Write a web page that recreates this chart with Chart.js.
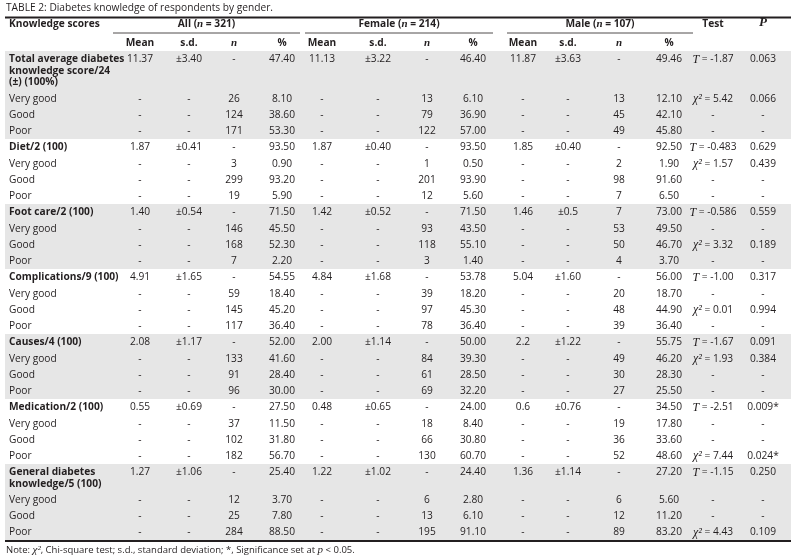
<!DOCTYPE html>
<html>
<head>
<meta charset="utf-8">
<script src="https://cdn.jsdelivr.net/npm/chart.js@4"></script>
<style>
  html, body { margin: 0; padding: 0; background: #fff; }
  #table2 { display: block; }
</style>
</head>
<body>
<canvas id="table2" width="796" height="558"></canvas>
<script>
// rows: each section = heading row + Very good / Good / Poor
var sectionLabels = [
    ['Total average diabetes', 'knowledge score/24', '(\u00b1) (100%)'],
    ['Diet/2 (100)'],
    ['Foot care/2 (100)'],
    ['Complications/9 (100)'],
    ['Causes/4 (100)'],
    ['Medication/2 (100)'],
    ['General diabetes', 'knowledge/5 (100)']
];
var levelLabels = ['Very good', 'Good', 'Poor'];

var allMean = ['11.37','-','-','-', '1.87','-','-','-', '1.40','-','-','-', '4.91','-','-','-', '2.08','-','-','-', '0.55','-','-','-', '1.27','-','-','-'];
var allSd   = ['\u00b13.40','-','-','-', '\u00b10.41','-','-','-', '\u00b10.54','-','-','-', '\u00b11.65','-','-','-', '\u00b11.17','-','-','-', '\u00b10.69','-','-','-', '\u00b11.06','-','-','-'];
var allN    = ['-','26','124','171', '-','3','299','19', '-','146','168','7', '-','59','145','117', '-','133','91','96', '-','37','102','182', '-','12','25','284'];
var allPct  = ['47.40','8.10','38.60','53.30', '93.50','0.90','93.20','5.90', '71.50','45.50','52.30','2.20', '54.55','18.40','45.20','36.40', '52.00','41.60','28.40','30.00', '27.50','11.50','31.80','56.70', '25.40','3.70','7.80','88.50'];

var femMean = ['11.13','-','-','-', '1.87','-','-','-', '1.42','-','-','-', '4.84','-','-','-', '2.00','-','-','-', '0.48','-','-','-', '1.22','-','-','-'];
var femSd   = ['\u00b13.22','-','-','-', '\u00b10.40','-','-','-', '\u00b10.52','-','-','-', '\u00b11.68','-','-','-', '\u00b11.14','-','-','-', '\u00b10.65','-','-','-', '\u00b11.02','-','-','-'];
var femN    = ['-','13','79','122', '-','1','201','12', '-','93','118','3', '-','39','97','78', '-','84','61','69', '-','18','66','130', '-','6','13','195'];
var femPct  = ['46.40','6.10','36.90','57.00', '93.50','0.50','93.90','5.60', '71.50','43.50','55.10','1.40', '53.78','18.20','45.30','36.40', '50.00','39.30','28.50','32.20', '24.00','8.40','30.80','60.70', '24.40','2.80','6.10','91.10'];

var maleMean = ['11.87','-','-','-', '1.85','-','-','-', '1.46','-','-','-', '5.04','-','-','-', '2.2','-','-','-', '0.6','-','-','-', '1.36','-','-','-'];
var maleSd   = ['\u00b13.63','-','-','-', '\u00b10.40','-','-','-', '\u00b10.5','-','-','-', '\u00b11.60','-','-','-', '\u00b11.22','-','-','-', '\u00b10.76','-','-','-', '\u00b11.14','-','-','-'];
var maleN    = ['-','13','45','49', '-','2','98','7', '7','53','50','4', '-','20','48','39', '-','49','30','27', '-','19','36','52', '-','6','12','89'];
var malePct  = ['49.46','12.10','42.10','45.80', '92.50','1.90','91.60','6.50', '73.00','49.50','46.70','3.70', '56.00','18.70','44.90','36.40', '55.75','46.20','28.30','25.50', '34.50','17.80','33.60','48.60', '27.20','5.60','11.20','83.20'];

var testStat = ['T = -1.87','\u03c7\u00b2 = 5.42','-','-', 'T = -0.483','\u03c7\u00b2 = 1.57','-','-', 'T = -0.586','-','\u03c7\u00b2 = 3.32','-', 'T = -1.00','-','\u03c7\u00b2 = 0.01','-', 'T = -1.67','\u03c7\u00b2 = 1.93','-','-', 'T = -2.51','-','-','\u03c7\u00b2 = 7.44', 'T = -1.15','-','-','\u03c7\u00b2 = 4.43'];
var pValue   = ['0.063','0.066','-','-', '0.629','0.439','-','-', '0.559','-','0.189','-', '0.317','-','0.994','-', '0.091','0.384','-','-', '0.009*','-','-','0.024*', '0.250','-','-','0.109'];

var groupLabels = ['All', 'Female', 'Male'];
var groupN = [321, 214, 107];
var subHeads = ['Mean', 's.d.', 'n', '%'];

// layout (px in chart units)
var colX = [140, 189, 234, 282, 322, 378, 427, 473, 523, 568, 619, 669, 713, 763];
var groupSpan = [[113, 300], [305, 493], [507, 693]];
var FONT = '"Open Sans", sans-serif';
var SIZE = '10.2px ';
var INK = '#231f20';
var SHADE = '#e6e6e6';

var tablePlugin = {
    id: 'tableDraw',
    afterDraw: function (chart) {
        var ctx = chart.ctx;
        var sx = chart.scales.x, sy = chart.scales.y;
        function X(v) { return sx.getPixelForValue(v); }
        function Y(v) { return sy.getPixelForValue(v); }
        function txt(s, x, y, align, font) {
            ctx.font = font || (SIZE + FONT);
            ctx.textAlign = align || 'center';
            ctx.textBaseline = 'middle';
            ctx.fillStyle = INK;
            ctx.fillText(s, X(x), Y(y));
        }
        function hline(x0, x1, y, w) {
            ctx.beginPath();
            ctx.lineWidth = w;
            ctx.strokeStyle = INK;
            ctx.moveTo(X(x0), Y(y));
            ctx.lineTo(X(x1), Y(y));
            ctx.stroke();
        }
        function testText(s, x, y) {
            if (s === '-') { txt(s, x, y); return; }
            var sp = s.indexOf(' ');
            var sym = s.slice(0, sp), rest = s.slice(sp);
            var symFont = 'italic 12px "Liberation Serif", serif';
            var restFont = SIZE + FONT;
            ctx.font = symFont; var w1 = ctx.measureText(sym).width;
            ctx.font = restFont; var w2 = ctx.measureText(rest).width;
            var left = X(x) - (w1 + w2) / 2;
            ctx.textBaseline = 'middle'; ctx.textAlign = 'left'; ctx.fillStyle = INK;
            ctx.font = symFont; ctx.fillText(sym, left, Y(y));
            ctx.font = restFont; ctx.fillText(rest, left + w1, Y(y));
        }

        ctx.save();
        // title
        txt('TABLE 2: Diabetes knowledge of respondents by gender.', 6, 8, 'left', SIZE + FONT);
        hline(5, 791, 17.5, 2.2);

        // header
        var bold = 'bold ' + SIZE + FONT;
        var serifN = 'bold italic 11px "Liberation Serif", serif';
        txt('Knowledge scores', 9, 24, 'left', bold);
        groupLabels.forEach(function (g, i) {
            var cx = (groupSpan[i][0] + groupSpan[i][1]) / 2;
            ctx.font = bold;
            var a = g + ' (', b = 'n', c = ' = ' + groupN[i] + ')';
            var wa = ctx.measureText(a).width, wc = ctx.measureText(c).width;
            ctx.font = serifN;
            var wb = ctx.measureText(b).width;
            var left = X(cx) - (wa + wb + wc) / 2;
            ctx.textAlign = 'left'; ctx.textBaseline = 'middle'; ctx.fillStyle = INK;
            ctx.font = bold; ctx.fillText(a, left, Y(24));
            ctx.font = serifN; ctx.fillText(b, left + wa, Y(24));
            ctx.font = bold; ctx.fillText(c, left + wa + wb, Y(24));
            hline(groupSpan[i][0], groupSpan[i][1], 33, 0.8);
            for (var k = 0; k < 4; k++) {
                txt(subHeads[k], colX[i * 4 + k], 43, 'center', subHeads[k] === 'n' ? serifN : bold);
            }
        });
        txt('Test', colX[12], 24, 'center', bold);
        txt('P', colX[13], 23, 'center', 'bold italic 13px "Liberation Serif", serif');

        // body
        var cols = [allMean, allSd, allN, allPct, femMean, femSd, femN, femPct,
                    maleMean, maleSd, maleN, malePct];
        var y = 51;
        sectionLabels.forEach(function (lines, s) {
            var headH = 17 + 11.5 * (lines.length - 1);
            var secH = headH + 16 * 3;
            if (s % 2 === 0) {
                ctx.fillStyle = SHADE;
                ctx.fillRect(X(5), Y(y), X(791) - X(5), Y(y + secH) - Y(y));
            }
            var rowY = [y + 8.5, y + headH + 8, y + headH + 24, y + headH + 40];
            lines.forEach(function (l, j) { txt(l, 9, rowY[0] + j * 11.5, 'left', bold); });
            levelLabels.forEach(function (l, j) { txt(l, 9, rowY[j + 1], 'left'); });
            for (var r = 0; r < 4; r++) {
                var idx = s * 4 + r;
                cols.forEach(function (arr, c) { txt(arr[idx], colX[c], rowY[r]); });
                testText(testStat[idx], colX[12], rowY[r]);
                txt(pValue[idx], colX[13], rowY[r]);
            }
            y += secH;
        });
        hline(5, 791, y + 0.5, 2.2);

        // note
        var parts = [['Note: ', 0], ['\u03c7\u00b2', 1], [', Chi-square test; s.d., standard deviation; *, Significance set at ', 0], ['p', 1], [' < 0.05.', 0]];
        var px = X(6);
        ctx.textAlign = 'left'; ctx.textBaseline = 'middle'; ctx.fillStyle = INK;
        parts.forEach(function (p) {
            ctx.font = p[1] ? 'italic 11px "Liberation Serif", serif' : '9.5px ' + FONT;
            ctx.fillText(p[0], px, Y(y + 10));
            px += ctx.measureText(p[0]).width;
        });
        ctx.restore();
    }
};

new Chart(document.getElementById('table2').getContext('2d'), {
    type: 'scatter',
    data: { datasets: [] },
    options: {
        responsive: false,
        animation: false,
        layout: { padding: 0 },
        scales: {
            x: { type: 'linear', min: 0, max: 796, display: false },
            y: { type: 'linear', min: 0, max: 558, reverse: true, display: false }
        },
        plugins: { legend: { display: false }, tooltip: { enabled: false } }
    },
    plugins: [tablePlugin]
});
</script>
</body>
</html>
